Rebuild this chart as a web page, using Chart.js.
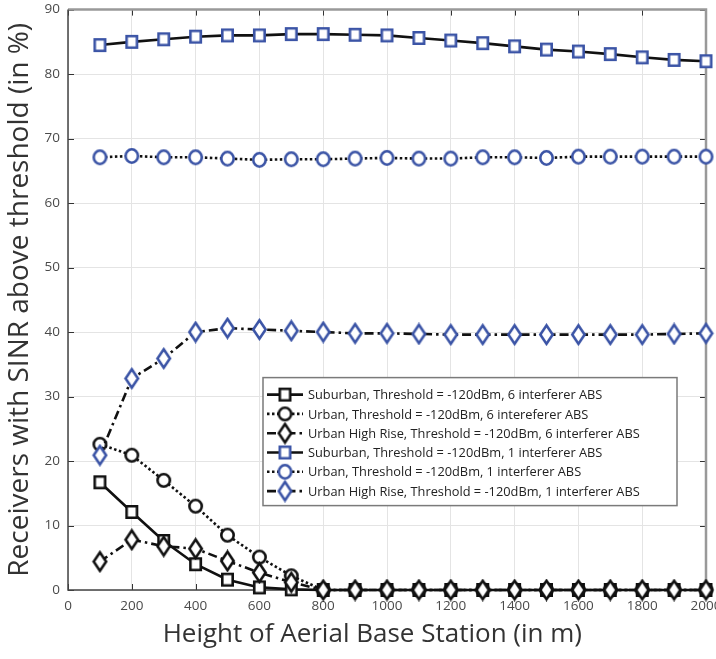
<!DOCTYPE html>
<html>
<head>
<meta charset="utf-8">
<script src="https://cdn.jsdelivr.net/npm/chart.js@4.4.0/dist/chart.umd.min.js"></script>
<style>
  body { margin: 0; background: #fff; }
  canvas { display: block; }
</style>
</head>
<body>
<canvas id="sinrChart" width="716" height="659"></canvas>
<script>
// heights of the aerial base station (m)
const heights = [100, 200, 300, 400, 500, 600, 700, 800, 900, 1000,
                 1100, 1200, 1300, 1400, 1500, 1600, 1700, 1800, 1900, 2000];

// 6 interferer ABS
const suburban6 = [16.7, 12.1, 7.6, 4.0, 1.6, 0.4, 0.1, 0, 0, 0, 0, 0, 0, 0, 0, 0, 0, 0, 0, 0];
const urban6 = [22.6, 20.9, 17.0, 13.0, 8.5, 5.1, 2.2, 0, 0, 0, 0, 0, 0, 0, 0, 0, 0, 0, 0, 0];
const highRise6 = [4.4, 7.8, 6.8, 6.4, 4.5, 2.7, 1.2, 0, 0, 0, 0, 0, 0, 0, 0, 0, 0, 0, 0, 0];

// 1 interferer ABS
const suburban1 = [84.5, 85.0, 85.4, 85.8, 86.0, 86.0, 86.2, 86.2, 86.1, 86.0,
                   85.6, 85.2, 84.8, 84.3, 83.8, 83.5, 83.1, 82.6, 82.2, 82.0];
const urban1 = [67.1, 67.3, 67.1, 67.1, 66.9, 66.7, 66.8, 66.8, 66.9, 67.0,
                66.9, 66.9, 67.1, 67.1, 67.0, 67.2, 67.2, 67.2, 67.2, 67.2];
const highRise1 = [20.9, 32.8, 35.9, 40.0, 40.6, 40.4, 40.2, 40.0, 39.8, 39.8,
                   39.7, 39.6, 39.6, 39.6, 39.6, 39.6, 39.6, 39.6, 39.7, 39.8];

const xTicks = [0, 200, 400, 600, 800, 1000, 1200, 1400, 1600, 1800, 2000];
const yTicks = [0, 10, 20, 30, 40, 50, 60, 70, 80, 90];

const labels = [
  "Suburban, Threshold = -120dBm, 6 interferer ABS",
  "Urban, Threshold = -120dBm, 6 intereferer ABS",
  "Urban High Rise, Threshold = -120dBm, 6 interferer ABS",
  "Suburban, Threshold = -120dBm, 1 interferer ABS",
  "Urban, Threshold = -120dBm, 1 interferer ABS",
  "Urban High Rise, Threshold = -120dBm, 1 interferer ABS"
];
const xTitle = "Height of Aerial Base Station (in m)";

const FONT = "'Open Sans', 'Noto Sans', sans-serif";
const BLUE = "#3b54a6";
const SOLID = [];
const DOTTED = [2.5, 2.5];
const DASHDOT = [9, 4, 2.5, 4];

// hollow MATLAB-like markers drawn onto small canvases
function makeMarker(shape, color, w, h) {
  const lw = 2.6;
  const c = document.createElement("canvas");
  c.width = w + 2;
  c.height = h + 2;
  const g = c.getContext("2d");
  const cx = c.width / 2, cy = c.height / 2;
  const rx = w / 2 - lw / 2, ry = h / 2 - lw / 2;
  g.beginPath();
  if (shape === "square") {
    g.rect(cx - rx, cy - ry, rx * 2, ry * 2);
  } else if (shape === "circle") {
    g.ellipse(cx, cy, rx, ry, 0, 0, Math.PI * 2);
  } else {
    g.moveTo(cx, cy - ry);
    g.lineTo(cx + rx, cy);
    g.lineTo(cx, cy + ry);
    g.lineTo(cx - rx, cy);
    g.closePath();
  }
  g.fillStyle = "#fff";
  g.fill();
  g.lineWidth = lw;
  g.strokeStyle = color;
  g.stroke();
  return c;
}

const markers = [
  makeMarker("square", "#111", 13, 14),
  makeMarker("circle", "#111", 15, 15),
  makeMarker("diamond", "#111", 15, 21),
  makeMarker("square", BLUE, 13, 14),
  makeMarker("circle", BLUE, 15, 16),
  makeMarker("diamond", BLUE, 15, 21)
];
const dashes = [SOLID, DOTTED, DASHDOT, SOLID, DOTTED, DASHDOT];
const series = [suburban6, urban6, highRise6, suburban1, urban1, highRise1];

const datasets = series.map((vals, i) => ({
  label: labels[i],
  data: vals.map((v, j) => ({ x: heights[j], y: v })),
  borderColor: "#111",
  borderWidth: 2.6,
  borderDash: dashes[i],
  pointStyle: markers[i],
  pointRadius: 7,
  pointHoverRadius: 7,
  fill: false,
  tension: 0,
  clip: false,
  order: 5 - i
}));

// box, inner tick marks (MATLAB style), x axis title
const framePlugin = {
  id: "frame",
  beforeDatasetsDraw(chart) {
    const { ctx, chartArea: a, scales } = chart;
    ctx.save();
    ctx.strokeStyle = "#333";
    ctx.lineWidth = 1;
    xTicks.forEach(t => {
      const px = Math.round(scales.x.getPixelForValue(t)) + 0.5;
      ctx.beginPath();
      ctx.moveTo(px, a.bottom); ctx.lineTo(px, a.bottom - 6);
      ctx.moveTo(px, a.top); ctx.lineTo(px, a.top + 6);
      ctx.stroke();
    });
    yTicks.forEach(t => {
      const py = Math.round(scales.y.getPixelForValue(t)) + 0.5;
      ctx.beginPath();
      ctx.moveTo(a.left, py); ctx.lineTo(a.left + 6, py);
      ctx.moveTo(a.right, py); ctx.lineTo(a.right - 6, py);
      ctx.stroke();
    });
    // top and right in grey
    ctx.strokeStyle = "#999";
    ctx.lineWidth = 2.5;
    ctx.beginPath();
    ctx.moveTo(a.left, a.top); ctx.lineTo(a.right, a.top); ctx.lineTo(a.right, a.bottom);
    ctx.stroke();
    // left and bottom darker
    ctx.strokeStyle = "#444";
    ctx.lineWidth = 1.5;
    ctx.beginPath();
    ctx.moveTo(a.left, a.top); ctx.lineTo(a.left, a.bottom); ctx.lineTo(a.right, a.bottom);
    ctx.stroke();
    ctx.restore();
  },
  afterDraw(chart) {
    const { ctx, chartArea: a } = chart;
    ctx.save();
    ctx.font = "26px " + FONT;
    ctx.fillStyle = "#333";
    ctx.textAlign = "center";
    ctx.textBaseline = "middle";
    ctx.fillText(xTitle, a.left + (a.right - a.left) * 0.477, 635);
    ctx.restore();
  }
};

// legend box inside the plot, lower right
const legendPlugin = {
  id: "boxLegend",
  afterDatasetsDraw(chart) {
    const { ctx, chartArea: a } = chart;
    const bx = a.left + 195, by = a.top + 368, bw = 414, bh = 128;
    ctx.save();
    ctx.fillStyle = "#fff";
    ctx.fillRect(bx, by, bw, bh);
    ctx.strokeStyle = "#7a7a7a";
    ctx.lineWidth = 1.5;
    ctx.strokeRect(bx, by, bw, bh);
    ctx.font = "12.8px " + FONT;
    ctx.textBaseline = "middle";
    labels.forEach((txt, i) => {
      const ry = by + 17 + i * 19.3;
      ctx.strokeStyle = "#111";
      ctx.lineWidth = 2.6;
      ctx.setLineDash(dashes[i]);
      ctx.beginPath();
      ctx.moveTo(bx + 4, ry); ctx.lineTo(bx + 40, ry);
      ctx.stroke();
      ctx.setLineDash([]);
      const m = markers[i];
      ctx.drawImage(m, bx + 22 - m.width / 2, ry - m.height / 2);
      ctx.fillStyle = "#222";
      ctx.fillText(txt, bx + 45, ry + 1);
    });
    ctx.restore();
  }
};

new Chart(document.getElementById("sinrChart").getContext("2d"), {
  type: "line",
  data: { datasets: datasets },
  options: {
    responsive: false,
    animation: false,
    layout: { padding: { top: 8, right: 10, left: 0, bottom: 0 } },
    plugins: {
      legend: { display: false },
      tooltip: { enabled: false }
    },
    scales: {
      x: {
        type: "linear",
        min: 0,
        max: 2000,
        afterFit: s => { s.height = 69; s.paddingLeft = 0; s.paddingRight = 0; },
        afterBuildTicks: s => { s.ticks = xTicks.map(v => ({ value: v })); },
        grid: { color: "#e4e4e4", drawTicks: false },
        border: { display: false },
        ticks: {
          padding: 8,
          color: "#4a4a4a",
          font: { family: FONT, size: 13.5 },
          callback: v => String(v)
        },
        title: { display: false }
      },
      y: {
        min: 0,
        max: 90,
        afterFit: s => { s.width = 68; s.paddingTop = 0; s.paddingBottom = 0; },
        afterBuildTicks: s => { s.ticks = yTicks.map(v => ({ value: v })); },
        grid: { color: "#e4e4e4", drawTicks: false },
        border: { display: false },
        ticks: {
          padding: 8,
          color: "#4a4a4a",
          font: { family: FONT, size: 13.5 },
          callback: v => String(v)
        },
        title: {
          display: true,
          text: "Receivers with SINR above threshold (in %)",
          color: "#333",
          font: { family: FONT, size: 28 },
          padding: { top: 3, bottom: 0 }
        }
      }
    }
  },
  plugins: [framePlugin, legendPlugin]
});
</script>
</body>
</html>
